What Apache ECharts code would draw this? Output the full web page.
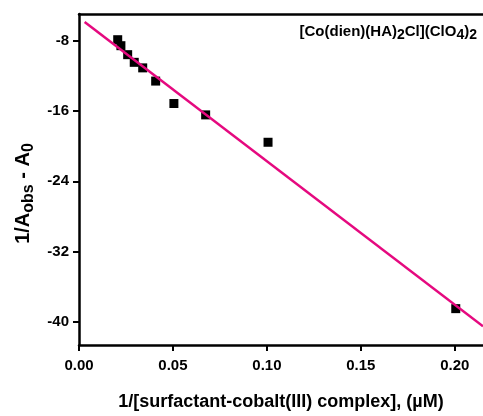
<!DOCTYPE html>
<html>
<head>
<meta charset="utf-8">
<script src="https://cdn.jsdelivr.net/npm/echarts@6/dist/echarts.min.js"></script>
<style>
  html, body { margin: 0; padding: 0; background: #fff; }
  #chart { width: 483px; height: 416px; }
</style>
</head>
<body>
<div id="chart"></div>
<script>
// measured points: 1/[complex] vs 1/(Aobs - A0)
const xValues = [0.0206, 0.0223, 0.0259, 0.0294, 0.0339, 0.0408, 0.0505, 0.0674, 0.1006, 0.2005];
const yValues = [-7.92, -8.6, -9.62, -10.49, -11.12, -12.62, -15.17, -16.46, -19.57, -38.47];
// linear fit end points
const fitX = [0.003, 0.215];
const fitY = [-5.92, -40.47];
const yTicks = [-8, -16, -24, -32, -40];

const font = "'Liberation Sans', Arial, sans-serif";
const chart = echarts.init(document.getElementById("chart"));

const tickLabel = { color: "#000", fontFamily: font, fontWeight: "bold", fontSize: 15 };

chart.setOption({
  animation: false,
  grid: { left: 79, right: 0, top: 14, bottom: 69 },
  xAxis: [
    {
      type: "value",
      min: 0,
      max: 0.215,
      interval: 0.05,
      axisLine: { lineStyle: { color: "#000", width: 2.5 } },
      axisTick: { length: 6, lineStyle: { color: "#000", width: 2 } },
      axisLabel: { ...tickLabel, margin: 13, formatter: (v) => v.toFixed(2), showMaxLabel: false },
      splitLine: { show: false },
      name: "1/[surfactant-cobalt(III) complex], (µM)",
      nameLocation: "middle",
      nameGap: 48,
      nameTextStyle: { color: "#000", fontFamily: font, fontWeight: "bold", fontSize: 18 },
    },
    {
      type: "value",
      position: "top",
      min: 0,
      max: 0.215,
      axisLine: { show: true, lineStyle: { color: "#000", width: 2.5 } },
      axisTick: { show: false },
      axisLabel: { show: false },
      splitLine: { show: false },
    },
  ],
  yAxis: {
    type: "value",
    min: -42.6,
    max: -5,
    axisLine: { show: true, lineStyle: { color: "#000", width: 2.5 } },
    axisTick: { show: true, length: 6, customValues: yTicks, lineStyle: { color: "#000", width: 2 } },
    axisLabel: { ...tickLabel, margin: 10, customValues: yTicks },
    splitLine: { show: false },
    name: "{n|1/A}{s|obs}{n| - A}{s|0}",
    nameLocation: "middle",
    nameGap: 42,
    nameRotate: 90,
    nameTextStyle: {
      padding: [0, 28, 0, 0],
      rich: {
        n: { color: "#000", fontFamily: font, fontWeight: "bold", fontSize: 20 },
        s: { color: "#000", fontFamily: font, fontWeight: "bold", fontSize: 16, padding: [9, 0, 0, 0] },
      },
    },
  },
  graphic: [
    {
      type: "text",
      right: 6,
      top: 24,
      style: {
        text: "{n|[Co(dien)(HA)}{s|2}{n|Cl](ClO}{s|4}{n|)}{s|2}",
        rich: {
          n: { fill: "#000", fontFamily: font, fontWeight: "bold", fontSize: 15 },
          s: { fill: "#000", fontFamily: font, fontWeight: "bold", fontSize: 14, padding: [8, 0, 0, 0] },
        },
      },
    },
  ],
  series: [
    {
      type: "line",
      data: fitX.map((x, i) => [x, fitY[i]]),
      symbol: "none",
      lineStyle: { color: "#e5097f", width: 2.5 },
      z: 3,
    },
    {
      type: "scatter",
      data: xValues.map((x, i) => [x, yValues[i]]),
      symbol: "rect",
      symbolSize: 9,
      itemStyle: { color: "#000", opacity: 1 },
      z: 2,
    },
  ],
});
</script>
</body>
</html>
